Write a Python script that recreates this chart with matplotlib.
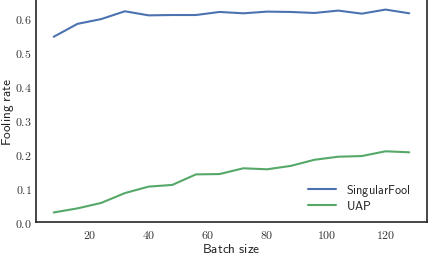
import matplotlib
matplotlib.use("Agg")
import matplotlib.pyplot as plt
import seaborn as sns
from matplotlib.ticker import FuncFormatter

# batch sizes and fooling rates
batch_sizes = [8, 16, 24, 32, 40, 48, 56, 64, 72, 80, 88, 96, 104, 112, 120, 128]
singularfool = [0.546, 0.584, 0.598, 0.621, 0.609, 0.610, 0.610, 0.619,
                0.615, 0.620, 0.619, 0.616, 0.623, 0.614, 0.626, 0.615]
uap = [0.029, 0.041, 0.057, 0.086, 0.105, 0.110, 0.141, 0.142,
       0.159, 0.156, 0.166, 0.184, 0.193, 0.195, 0.209, 0.206]

sns.set_style("white")
plt.rcParams['font.family'] = ['DejaVu Sans']
plt.rcParams['mathtext.fontset'] = 'cm'

fig = plt.figure(figsize=(4.28, 2.55), dpi=100)
ax = fig.add_axes([0.0841, 0.1243, 0.9136, 0.874])

pal = sns.color_palette("deep")
ax.plot(batch_sizes, singularfool, color=pal[0], lw=1.5, label=r"$\mathsf{SingularFool}$")
ax.plot(batch_sizes, uap, color=pal[2], lw=1.5, label=r"$\mathsf{UAP}$")

ax.set_ylim(bottom=0)
ax.set_xticks([20, 40, 60, 80, 100, 120])
ax.set_yticks([0.0, 0.1, 0.2, 0.3, 0.4, 0.5, 0.6])
ax.xaxis.set_major_formatter(FuncFormatter(lambda v, p: r"$%d$" % v))
ax.yaxis.set_major_formatter(FuncFormatter(lambda v, p: r"$%.1f$" % v))
ax.tick_params(labelsize=8.6, colors="#333333", length=0)
ax.tick_params(axis="x", pad=4)
ax.tick_params(axis="y", pad=3.0)

ax.set_xlabel(r"$\mathsf{Batch\ size}$", fontsize=9.6, color="#222222", labelpad=1)
ax.set_ylabel(r"$\mathsf{Fooling\ rate}$", fontsize=9.6, color="#222222")
ax.yaxis.set_label_coords(-0.05, 0.5)

for s in ax.spines.values():
    s.set_color("#262626")
    s.set_linewidth(1.2)

ax.legend(loc="lower right", frameon=False, fontsize=8.8, bbox_to_anchor=(0.985, -0.005),
          handlelength=2.3, labelspacing=0.1)

fig.savefig("out.png", dpi=100)
